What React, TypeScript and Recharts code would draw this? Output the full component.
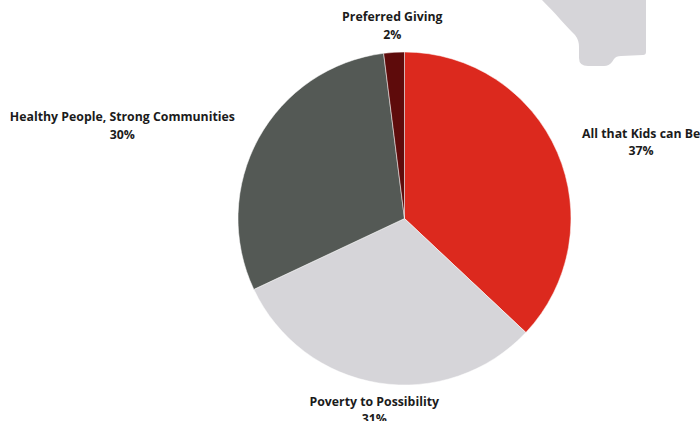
import React from "react";
import { PieChart, Pie, Cell } from "recharts";

const categories = ["All that Kids can Be", "Poverty to Possibility", "Healthy People, Strong Communities", "Preferred Giving"];
const values = [37, 31, 30, 2];
const colors = ["#DC291E", "#D6D5D9", "#545955", "#5E0B0B"];

const data = categories.map((name, i) => ({ name, value: values[i] }));

const FONT = "'Open Sans', Lato, sans-serif";
const FONT_SIZE = 12.3;
const FONT_WEIGHT = 700;

let ctx: CanvasRenderingContext2D | null = null;
function measure(text: string): number {
  if (!ctx) {
    const c = document.createElement("canvas");
    ctx = c.getContext("2d");
  }
  if (!ctx) return text.length * FONT_SIZE * 0.58;
  ctx.font = `${FONT_WEIGHT} ${FONT_SIZE}px 'Open Sans'`;
  return ctx.measureText(text).width;
}

const renderLabel = (props: any) => {
  const { cx, cy, midAngle, outerRadius, name, value } = props;
  const RAD = Math.PI / 180;
  const r = outerRadius + 27;
  const x = cx + r * Math.cos(-midAngle * RAD);
  const y = cy + r * Math.sin(-midAngle * RAD);
  const c = Math.cos(-midAngle * RAD);
  const w = measure(name);
  let centerX = x;
  if (c > 0.3) centerX = x + w / 2;
  else if (c < -0.3) centerX = x - w / 2;
  return (
    <text
      x={centerX}
      y={y}
      textAnchor="middle"
      fill="#1b1b1b"
      fontFamily={FONT}
      fontWeight={FONT_WEIGHT}
      fontSize={FONT_SIZE}
    >
      <tspan x={centerX} dy={-4}>{name}</tspan>
      <tspan x={centerX} dy={17.5}>{`${value}%`}</tspan>
    </text>
  );
};

export default function App() {
  return (
    <div style={{ position: "absolute", left: 0, top: 0, width: 700, height: 421, background: "#fff", overflow: "hidden" }}>
      <svg width={700} height={421} style={{ position: "absolute", left: 0, top: 0 }}>
        <path
          d="M542,0 C556,14 566,26 575,35 Q579,40 579,47 L579,58 Q579,66 588,66 L604,66 Q609,66 612,62 L614,59 Q616,56 621,56 L643,55 Q646,55 646,52 L646,0 Z"
          fill="#D6D5D9"
        />
      </svg>
      <div style={{ position: "absolute", left: 0, top: 0 }}>
        <PieChart width={700} height={421} margin={{ top: 0, right: 0, bottom: 0, left: 0 }}>
          <Pie
            data={data}
            dataKey="value"
            nameKey="name"
            cx={404.5}
            cy={218.5}
            outerRadius={166.5}
            startAngle={90}
            endAngle={-270}
            stroke="#ffffff"
            strokeWidth={0.5}
            label={renderLabel}
            labelLine={false}
            isAnimationActive={false}
          >
            {data.map((d, i) => (
              <Cell key={d.name} fill={colors[i]} />
            ))}
          </Pie>
        </PieChart>
      </div>
    </div>
  );
}
